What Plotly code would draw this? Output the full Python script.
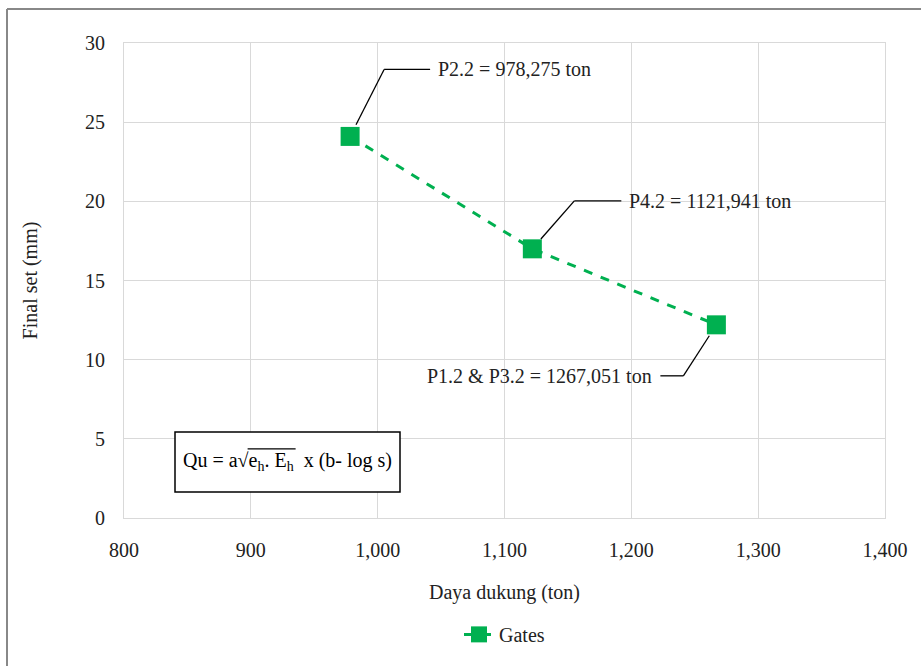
import math
import plotly.graph_objects as go

capacity = [978.275, 1121.941, 1267.051]
final_set = [24.1, 17.0, 12.2]
point_labels = ["P2.2 = 978,275 ton", "P4.2 = 1121,941 ton", "P1.2 & P3.2 = 1267,051 ton"]
series_name = "Gates"
x_ticks = [800, 900, 1000, 1100, 1200, 1300, 1400]
y_ticks = [0, 5, 10, 15, 20, 25, 30]

FONT = "Liberation Serif"
GREEN = "#00B050"
TXT = "#222222"

L, R, T, B = 124, 36, 43, 148
W, H = 921, 666
PW, PH = W - L - R, H - T - B
XR, YR = [800, 1400], [0, 30]
ux = (XR[1] - XR[0]) / PW   # data per px
uy = (YR[1] - YR[0]) / PH

fig = go.Figure()
fig.add_trace(go.Scatter(
    x=capacity, y=final_set, mode="lines+markers", name=series_name,
    line=dict(color=GREEN, width=3, dash="dash"),
    marker=dict(symbol="square", size=19, color=GREEN),
))

# leader lines: (diag dx, diag dy, horizontal length, side) in pixels
leaders = [(34, -67, 46, 1), (42, -48, 47, 1), (-33, 51, 23, -1)]
for x, y, lab, (dx, dy, hl, side) in zip(capacity, final_set, point_labels, leaders):
    d = math.hypot(dx, dy)
    sx, sy = dx / d * 13, dy / d * 13
    x0, y0 = x + sx * ux, y - sy * uy
    x1, y1 = x + dx * ux, y - dy * uy
    x2 = x1 + side * hl * ux
    fig.add_shape(type="line", x0=x0, y0=y0, x1=x1, y1=y1, line=dict(color="black", width=1.3))
    fig.add_shape(type="line", x0=x1, y0=y1, x1=x2, y1=y1, line=dict(color="black", width=1.3))
    fig.add_annotation(x=x2 + side * 6 * ux, y=y1, xanchor="left" if side > 0 else "right",
                       yanchor="middle", showarrow=False, text=lab,
                       font=dict(family=FONT, size=20, color=TXT))

# formula box (box drawn as shape so the overline shows above it)
bx, by = 0.215, 0.118
fig.add_shape(type="rect", xref="paper", yref="paper", layer="above",
              x0=(175 - L) / PW, x1=(400 - L) / PW, y0=(H - B - 492) / PH, y1=(H - B - 432) / PH,
              fillcolor="white", line=dict(color="black", width=1.5))
fig.add_shape(type="line", xref="paper", yref="paper", layer="above",
              x0=bx + (-40) / PW, x1=bx + 8 / PW, y0=by + 13 / PH, y1=by + 13 / PH,
              line=dict(color="black", width=1.3))
fig.add_annotation(
    xref="paper", yref="paper", x=bx, y=by, xanchor="center", yanchor="middle",
    text="Qu = a√e<sub>h</sub>. E<sub>h</sub>  x (b- log s)",
    showarrow=False, font=dict(family=FONT, size=20, color="black"),
)

# outer frame (top and left)
fx, fy = (7 - L) / PW, (H - B - 9) / PH
fig.add_shape(type="line", xref="paper", yref="paper", x0=fx, x1=1.1, y0=fy, y1=fy,
              line=dict(color="#888", width=2))
fig.add_shape(type="line", xref="paper", yref="paper", x0=fx, x1=fx, y0=fy, y1=-0.4,
              line=dict(color="#888", width=2))

fig.update_layout(
    width=W, height=H,
    margin=dict(l=L, r=R, t=T, b=B),
    paper_bgcolor="white", plot_bgcolor="white",
    font=dict(family=FONT, size=20, color=TXT),
    showlegend=True,
    legend=dict(orientation="h", x=0.5, xanchor="center", y=-0.245, yanchor="middle",
                font=dict(family=FONT, size=20, color=TXT)),
    xaxis=dict(range=XR, tickvals=x_ticks, tickformat=",d",
               showgrid=True, gridcolor="#d9d9d9", gridwidth=1, zeroline=False,
               showline=True, linecolor="#d9d9d9", mirror=True, ticks="", ticklabelstandoff=14,
               tickfont=dict(family=FONT, size=20, color=TXT),
               title=dict(text="Daya dukung (ton)", font=dict(family=FONT, size=20, color=TXT), standoff=24)),
    yaxis=dict(range=YR, tickvals=y_ticks,
               showgrid=True, gridcolor="#d9d9d9", gridwidth=1, zeroline=False,
               showline=True, linecolor="#d9d9d9", mirror=True, ticks="", ticklabelstandoff=14,
               tickfont=dict(family=FONT, size=20, color=TXT),
               title=dict(text="Final set (mm)", font=dict(family=FONT, size=20, color=TXT), standoff=42)),
)

fig.write_html("out.html")
